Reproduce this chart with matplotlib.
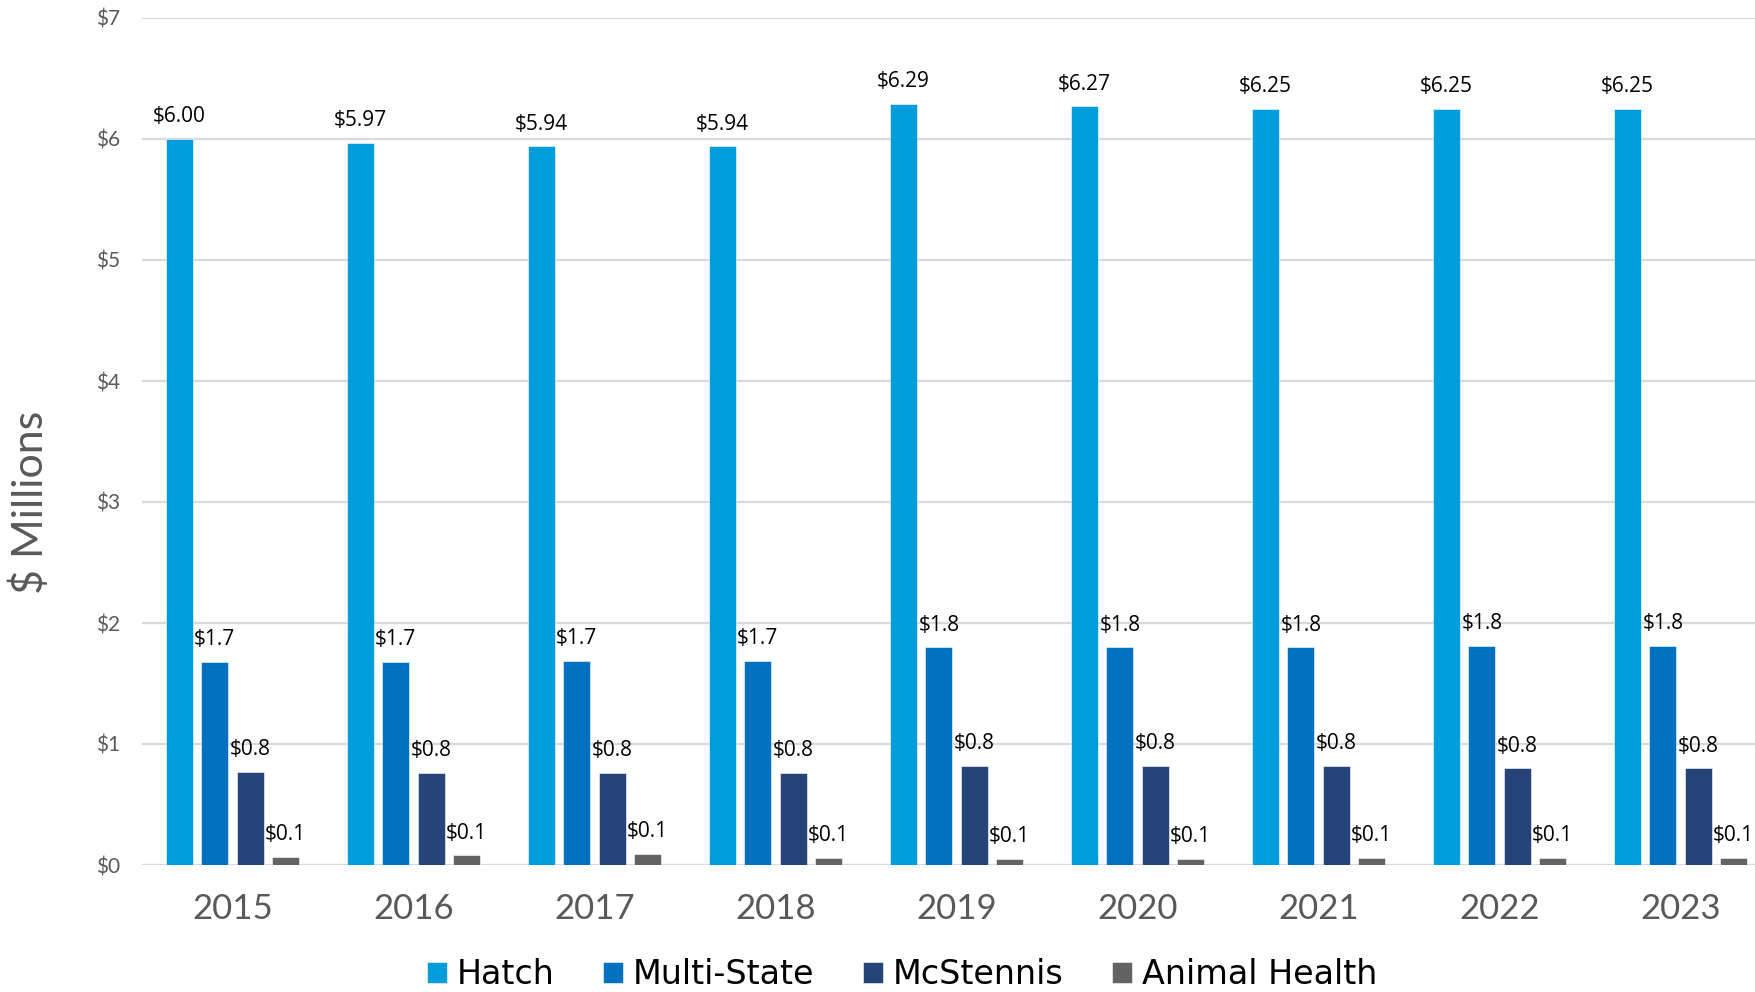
import numpy as np
import matplotlib.pyplot as plt

years = ['2015', '2016', '2017', '2018', '2019', '2020', '2021', '2022', '2023']

hatch = [6.00, 5.97, 5.94, 5.94, 6.29, 6.27, 6.25, 6.25, 6.25]
multi_state = [1.68, 1.68, 1.69, 1.69, 1.80, 1.80, 1.80, 1.81, 1.81]
mcstennis = [0.77, 0.76, 0.76, 0.76, 0.82, 0.82, 0.82, 0.80, 0.80]
animal_health = [0.07, 0.08, 0.09, 0.06, 0.05, 0.05, 0.06, 0.06, 0.06]

series_names = ['Hatch', 'Multi-State', 'McStennis', 'Animal Health']
series_colors = ['#009DDC', '#0070C0', '#264478', '#636363']
label_formats = ['${:.2f}', '${:.1f}', '${:.1f}', '${:.1f}']

axis_font = 'Lato'
label_font = 'Open Sans'
legend_font = 'DejaVu Sans'
gray = '#595959'

fig = plt.figure(figsize=(17.55, 9.92), dpi=100)
ax = fig.add_axes([142 / 1755, 127 / 992, 1629 / 1755, 847 / 992])

x = np.arange(len(years))
width = 0.149
step = 0.195

handles = []
for i, (name, vals, color, fmt) in enumerate(
        zip(series_names, [hatch, multi_state, mcstennis, animal_health],
            series_colors, label_formats)):
    pos = x + (i - 1.5) * step
    bars = ax.bar(pos, vals, width, color=color, edgecolor='white',
                  linewidth=0.4, label=name, zorder=3)
    handles.append(bars)
    for xp, v in zip(pos, vals):
        ax.annotate(fmt.format(v), (xp, v), xytext=(0, 12),
                    textcoords='offset points', ha='center', va='baseline',
                    fontsize=15, family=label_font, color='black',
                    annotation_clip=False)

ax.set_xlim(-0.5, len(years) - 0.5)
ax.set_ylim(0, 7)
ax.set_yticks(range(0, 8))
ax.set_yticklabels([f'${v}' for v in range(0, 8)], fontsize=15,
                   family=axis_font, color=gray)
ax.set_xticks(x)
ax.set_xticklabels(years, fontsize=25, family=axis_font, color=gray)
ax.tick_params(axis='y', length=0, pad=16)
ax.tick_params(axis='x', length=0, pad=20)

ax.grid(axis='y', color='#D9D9D9', linewidth=1.6, zorder=0)
ax.set_axisbelow(True)
for s in ax.spines.values():
    s.set_visible(False)

fig.text(30 / 1755, 1 - 502 / 992, '$ Millions', rotation=90, ha='center',
         va='center', fontsize=31, family=axis_font, color=gray)

fig.legend(handles=handles, labels=series_names, loc='center',
           bbox_to_anchor=(902 / 1755, 1 - 975 / 992), ncol=4, frameon=False,
           prop={'family': legend_font, 'size': 24},
           handlelength=0.6, handleheight=0.6, handletextpad=0.3,
           columnspacing=1.45)

fig.savefig('out.png', dpi=100, facecolor='white')
